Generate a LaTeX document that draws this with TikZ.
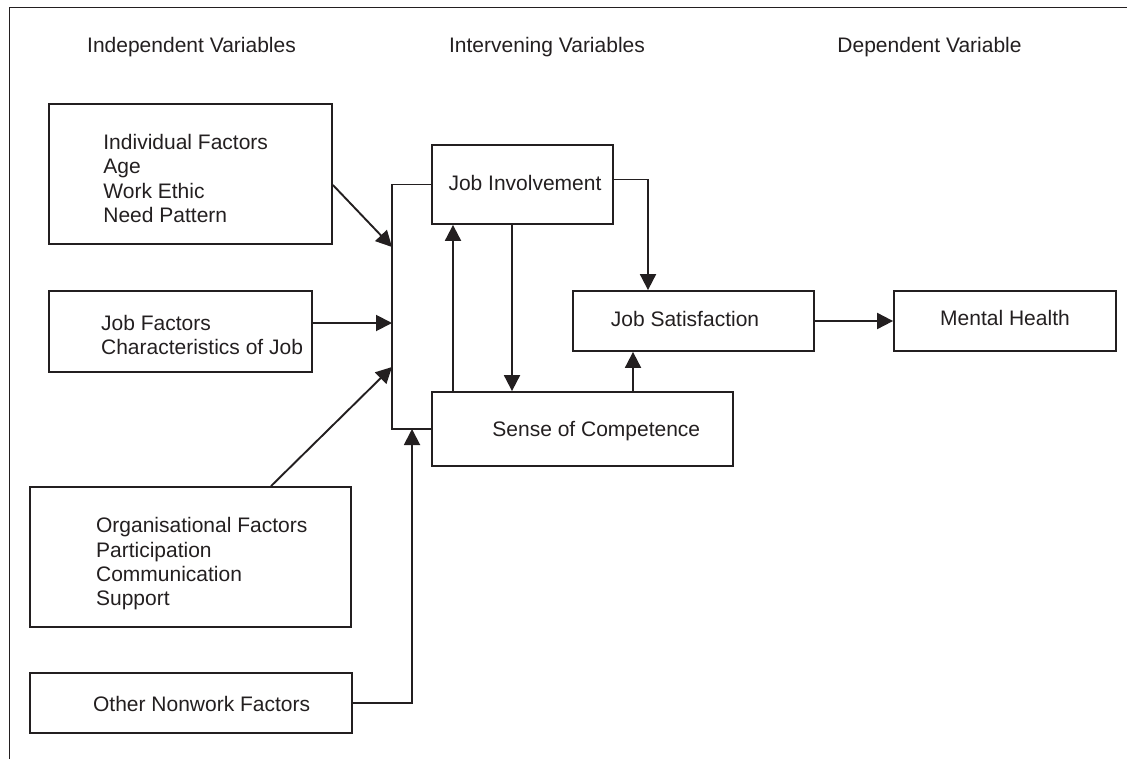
\documentclass[tikz,border=0pt]{standalone}
\usepackage{fontspec}
\setmainfont{Liberation Sans}
\usetikzlibrary{arrows.meta,fit}
\definecolor{ink}{RGB}{35,31,32}
\tikzset{
	box/.style={draw=ink, line width=0.9pt, inner sep=0pt},
	lbl/.style={inner sep=0pt, text=ink, font=\fontsize{10.5}{12.1}\selectfont, align=left},
	link/.style={draw=ink, line width=0.95pt},
	arr/.style={link, -{Triangle[length=8pt,width=8pt]}},
}
\begin{document}
\begin{tikzpicture}[x=0.5pt, y=-0.5pt, line cap=butt, line join=miter]
	\useasboundingbox (0,0) rectangle (1127,759);
	% Khung ngoài (chỉ cạnh trái và cạnh trên)
	\draw[ink, line width=0.6pt] (9.5,759) -- (9.5,7.5) -- (1127,7.5);
	% Tiêu đề ba cột
	\node[lbl, anchor=base] (hindep) at (191.5,53) {Independent Variables};
	\node[lbl, anchor=base] (hinterv) at (547,53) {Intervening Variables};
	\node[lbl, anchor=base] (hdep) at (929.5,53) {Dependent Variable};
	% Các ô biến độc lập
	\node[box, fit={(49,104) (332,244)}] (indiv) {};
	\node[lbl, anchor=north west] (indivtext) at (103,134) {Individual Factors\\Age\\Work Ethic\\Need Pattern};
	\node[box, fit={(49,291) (312,372)}] (jobfac) {};
	\node[lbl, anchor=north west] (jobfactext) at (100.7,315) {Job Factors\\Characteristics of Job};
	\node[box, fit={(30,487) (351,627)}] (org) {};
	\node[lbl, anchor=north west] (orgtext) at (95.7,517.3) {Organisational Factors\\Participation\\Communication\\Support};
	\node[box, fit={(30,673) (352,733)}] (other) {};
	\node[lbl, anchor=base west] (othertext) at (92.7,711) {Other Nonwork Factors};
	% Các ô biến trung gian và biến phụ thuộc
	\node[box, fit={(432,145) (613,224)}] (jobinv) {};
	\node[lbl, anchor=base] (jobinvtext) at (525,190.7) {Job Involvement};
	\node[box, fit={(432,392) (733,466)}] (compet) {};
	\node[lbl, anchor=base] (compettext) at (596.3,436) {Sense of Competence};
	\node[box, fit={(573,291) (814,351)}] (jobsat) {};
	\node[lbl, anchor=base] (jobsattext) at (685,326.7) {Job Satisfaction};
	\node[box, fit={(894,291) (1116,351)}] (mental) {};
	\node[lbl, anchor=base] (mentaltext) at (1005,325.7) {Mental Health};
	% Đường gom bên trái
	\coordinate (bus) at (392,300);
	\draw[link] (jobinv.west) -| (bus) |- (compet.west);
	\coordinate (in1) at (392,247);
	\coordinate (in2) at (392,323);
	\coordinate (in3) at (392,367);
	\coordinate (in4) at (412,0);
	\draw[arr] ([yshift=-5.5pt]indiv.east) -- (in1);
	\draw[arr] (jobfac.east |- in2) -- (in2);
	\draw[arr] ([xshift=40.25pt]org.north) -- (in3);
	\draw[arr] (other.east) -| (in4 |- compet.west);
	% Mũi tên giữa các biến trung gian
	\coordinate (c1) at (453,0);
	\coordinate (c2) at (512,0);
	\coordinate (c3) at (633,0);
	\coordinate (c4) at (648,0);
	\draw[arr] (compet.north -| c1) -- (jobinv.south -| c1);
	\draw[arr] (jobinv.south -| c2) -- (compet.north -| c2);
	\draw[arr] ([yshift=2.5pt]jobinv.east) -| (jobsat.north -| c4);
	\draw[arr] (compet.north -| c3) -- (jobsat.south -| c3);
	\draw[arr] (jobsat.east) -- (mental.west);
\end{tikzpicture}
\end{document}
